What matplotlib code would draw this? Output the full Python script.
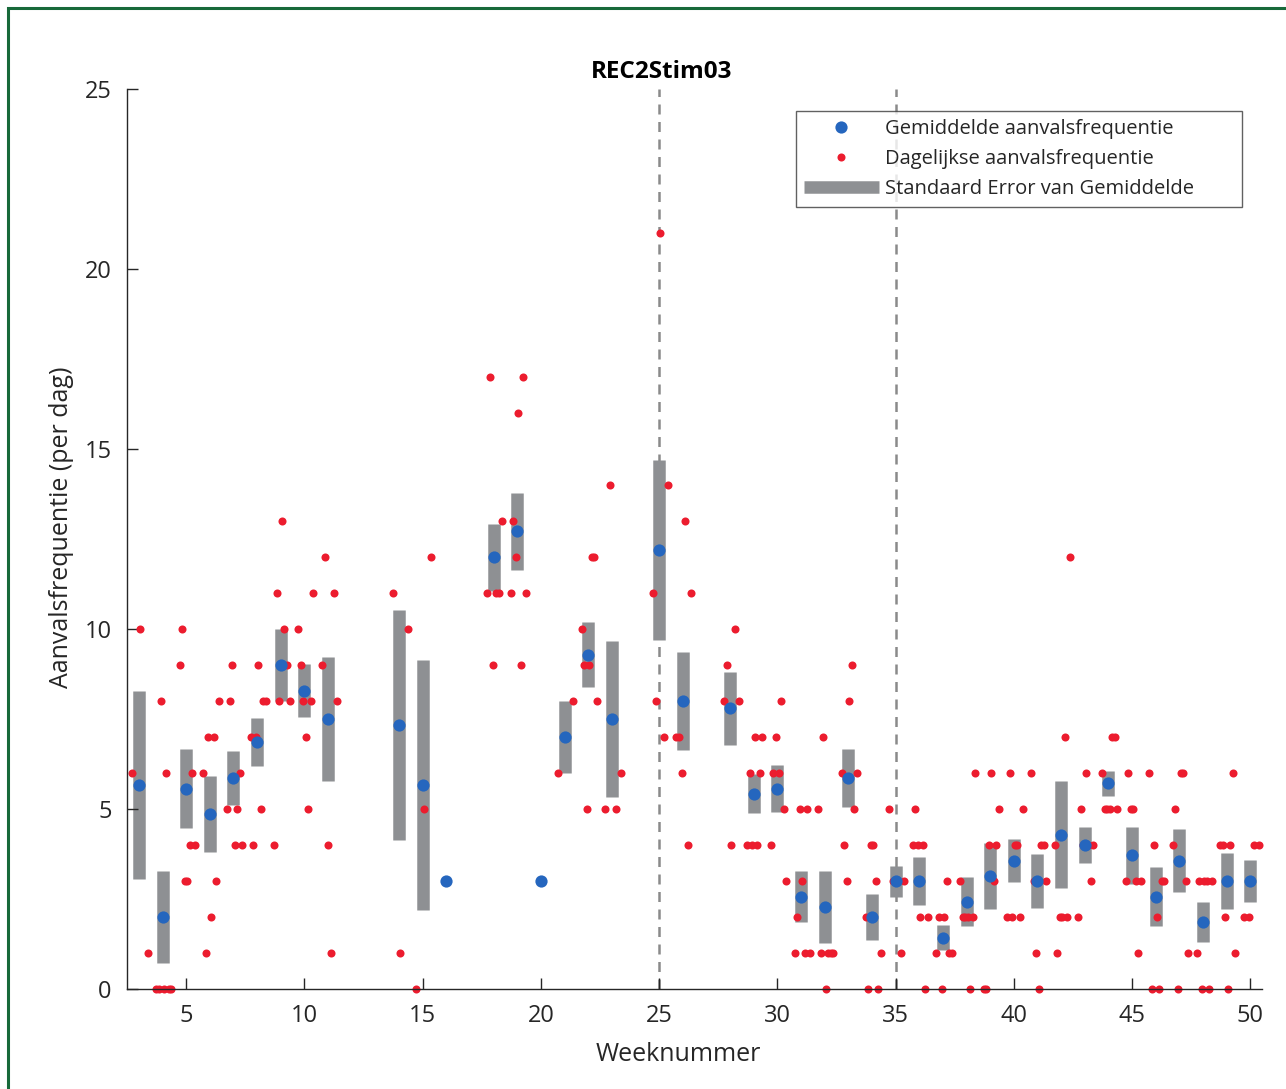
# -*- coding: utf-8 -*-
"""
plot.py - Aanvalsfrequentie per week (REC2Stim03)
Gemiddelde, dagelijkse waarden en standaardfout per weeknummer.
"""

import numpy as np
import matplotlib
matplotlib.use("Agg")
import matplotlib.pyplot as plt
from matplotlib.lines import Line2D
from matplotlib.patches import Rectangle

plt.rcParams["font.family"] = ["Open Sans", "DejaVu Sans"]

# Weeknummers met metingen
weken = [3, 4, 5, 6, 7, 8, 9, 10, 11, 14, 15, 16, 18, 19, 20, 21, 22, 23, 25, 26,
         28, 29, 30, 31, 32, 33, 34, 35, 36, 37, 38, 39, 40, 41, 42, 43, 44, 45,
         46, 47, 48, 49, 50]

# Gemiddelde aanvalsfrequentie per week
gemiddelde = [5.67, 2.00, 5.57, 4.86, 5.86, 6.86, 9.00, 8.29, 7.50, 7.33, 5.67, 3.00,
              12.00, 12.71, 3.00, 7.00, 9.29, 7.50, 12.20, 8.00, 7.80, 5.43, 5.57,
              2.57, 2.29, 5.86, 2.00, 3.00, 3.00, 1.43, 2.43, 3.14, 3.57, 3.00, 4.29,
              4.00, 5.71, 3.71, 2.57, 3.57, 1.86, 3.00, 3.00]

# Standaardfout van het gemiddelde (nan = een enkele meting)
sem = [2.60, 1.29, 1.09, 1.06, 0.74, 0.67, 0.99, 0.74, 1.72, 3.20, 3.48, np.nan,
       0.93, 1.08, np.nan, 1.00, 0.90, 2.17, 2.50, 1.37, 1.02, 0.53, 0.64,
       0.70, 1.00, 0.80, 0.65, 0.43, 0.66, 0.35, 0.69, 0.91, 0.61, 0.75, 1.48,
       0.49, 0.35, 0.78, 0.81, 0.88, 0.55, 0.78, 0.58]

# Dagelijkse aanvalsfrequentie per week (in volgorde van de dagen)
dagelijks = [
    [6, 10, 1],
    [0, 0, 8, 0, 6, 0, 0],
    [9, 10, 3, 3, 4, 6, 4],
    [6, 1, 7, 2, 7, 3, 8],
    [5, 8, 9, 4, 5, 6, 4],
    [7, 4, 7, 9, 5, 8, 8],
    [4, 11, 8, 13, 10, 9, 8],
    [10, 9, 8, 7, 5, 8, 11],
    [9, 12, 4, 1, 11, 8],
    [11, 1, 10],
    [0, 5, 12],
    [3],
    [11, 17, 9, 11, 11, 13],
    [11, 13, 12, 16, 9, 17, 11],
    [3],
    [6, 8],
    [10, 9, 5, 9, 12, 12, 8],
    [5, 14, 5, 6],
    [11, 8, 21, 7, 14],
    [7, 7, 6, 13, 4, 11],
    [8, 9, 4, 10, 8],
    [4, 6, 4, 7, 4, 6, 7],
    [4, 6, 7, 6, 8, 5, 3],
    [1, 2, 5, 3, 1, 5, 1],
    [5, 1, 7, 0, 1, 1, 1],
    [6, 4, 3, 8, 9, 5, 6],
    [2, 0, 4, 4, 3, 0, 1],
    [5, 3, 3, 1, 3],
    [4, 5, 4, 2, 4, 0, 2],
    [1, 2, 0, 2, 3, 1, 1],
    [3, 2, 2, 2, 0, 2, 6],
    [0, 0, 4, 6, 3, 4, 5],
    [2, 6, 2, 4, 4, 2, 5],
    [6, 3, 1, 0, 4, 4, 3],
    [4, 1, 2, 2, 7, 2, 12],
    [2, 5, 4, 6, 4, 3, 4],
    [6, 5, 5, 5, 7, 7, 5],
    [3, 6, 5, 5, 3, 1, 3],
    [6, 0, 4, 2, 0, 3, 3],
    [4, 5, 0, 6, 6, 3, 1],
    [1, 3, 0, 3, 3, 0, 3],
    [4, 4, 2, 0, 4, 6, 1],
    [2, 2, 4, 4],
]

# Weken met een stimulatiewijziging
wijzigingen = [25, 35]

# Kleuren
BLAUW = "#2566be"
ROOD  = "#ec1c2e"
GRIJS = "#8e9093"
TEKST = "#262626"


fig = plt.figure(figsize=(12.86, 10.89), dpi=100)
ax  = fig.add_axes([0.0988, 0.0918, 0.8826, 0.8264])

# groene kader rond de figuur
fig.patches.append(Rectangle((8 / 1286, -0.02), 1.05, 1 - 8 / 1089 + 0.02,
                             transform=fig.transFigure, fill=False,
                             edgecolor="#17693a", linewidth=2.2, zorder=0))

# standaardfout als grijze balken
for w, m, s in zip(weken, gemiddelde, sem):
    if not np.isnan(s):
        ax.plot([w, w], [m - s, m + s], color=GRIJS, linewidth=9,
                solid_capstyle="butt", zorder=1)

# dagelijkse waarden, verspreid over de week
for w, waarden in zip(weken, dagelijks):
    n = len(waarden)
    if n > 1:
        xs = w + np.linspace(-0.27, 0.37, n)
    else:
        xs = np.array([w + 0.04])
    ax.plot(xs, waarden, "o", color=ROOD, markersize=5.8,
            markeredgewidth=0, zorder=2, clip_on=False)

# gemiddelden
ax.plot(weken, gemiddelde, "o", color=BLAUW, markersize=8.8,
        markeredgewidth=0, zorder=3)

for w in wijzigingen:
    ax.axvline(w, color="#8a8a8a", linestyle=(0, (4, 3)), linewidth=1.8, zorder=0.5)

ax.set_xlim(2.5, 50.5)
ax.set_ylim(0, 25)
ax.set_xticks([5, 10, 15, 20, 25, 30, 35, 40, 45, 50])
ax.set_yticks([0, 5, 10, 15, 20, 25])

for kant in ["top", "right"]:
    ax.spines[kant].set_visible(False)
for kant in ["left", "bottom"]:
    ax.spines[kant].set_color(TEKST)
    ax.spines[kant].set_linewidth(1.0)

ax.tick_params(direction="in", length=8, width=1.0, colors=TEKST,
               labelsize=17, pad=11)

ax.set_xlabel("Weeknummer", fontsize=18, color=TEKST)
ax.set_ylabel("Aanvalsfrequentie (per dag)", fontsize=18, color=TEKST)
ax.xaxis.set_label_coords(0.4855, -0.059)
ax.yaxis.set_label_coords(-0.047, 0.513)
ax.set_title("REC2Stim03", fontsize=17.5, fontweight="bold", color="black",
             x=0.471, pad=8)

handles = [
    Line2D([], [], marker="o", linestyle="none", color=BLAUW, markersize=8.8,
           markeredgewidth=0),
    Line2D([], [], marker="o", linestyle="none", color=ROOD, markersize=5.8,
           markeredgewidth=0),
    Line2D([], [], color=GRIJS, linewidth=9, solid_capstyle="butt"),
]
labels = ["Gemiddelde aanvalsfrequentie", "Dagelijkse aanvalsfrequentie",
          "Standaard Error van Gemiddelde"]
# legendekader even breed als in het origineel (links uitgelijnd)
leg = ax.legend(handles, labels, loc="upper left",
                bbox_to_anchor=(0.5894, 0.8711, 0.393, 0.1045), mode="expand",
                fontsize=14.5, frameon=True, fancybox=False, handlelength=3.7,
                handletextpad=0.3, borderpad=0.4, labelspacing=0.5,
                borderaxespad=0)
leg.get_frame().set_edgecolor("#3a3a3a")
leg.get_frame().set_linewidth(1.0)
for t in leg.get_texts():
    t.set_color(TEKST)

plt.savefig("out.png", dpi=100)
plt.close()
